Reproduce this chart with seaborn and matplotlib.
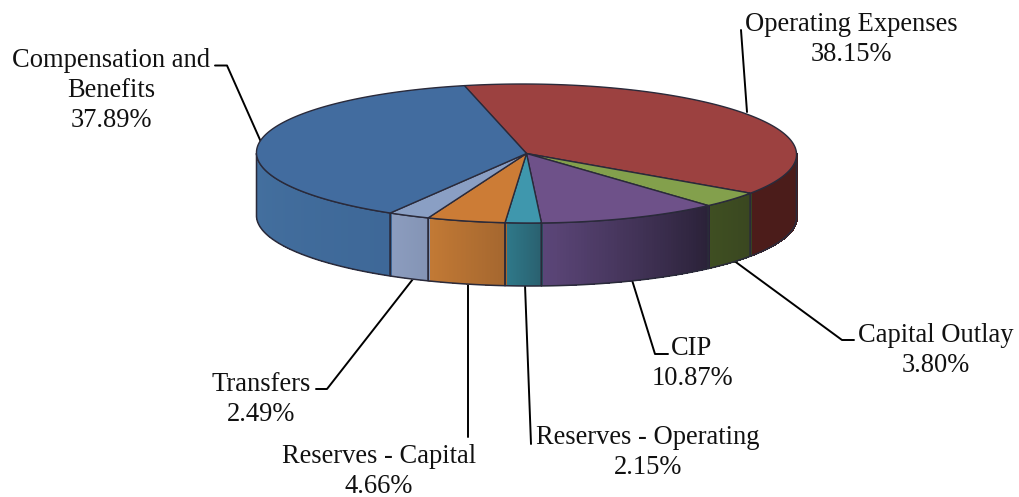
import numpy as np
import matplotlib
matplotlib.use("Agg")
import matplotlib.pyplot as plt
import seaborn as sns
from matplotlib.colors import to_rgb

categories = ["Operating Expenses", "Capital Outlay", "CIP", "Reserves - Operating",
              "Reserves - Capital", "Transfers", "Compensation and\nBenefits"]
shares = [38.15, 3.80, 10.87, 2.15, 4.66, 2.49, 37.89]
top_colors = ["#9c4140", "#83a04c", "#6e5189", "#3f97ad", "#cc7c36", "#8a9fc4", "#426c9f"]
side_left = ["#4c1c1a", "#3f4f22", "#5c4679", "#2f7a8b", "#c37a35", "#8c9dbf", "#44709f"]
side_right = ["#4a1c1a", "#3a4720", "#2b2239", "#2a6170", "#a5672f", "#8494b5", "#3e6898"]

sns.set_theme(style="white")
plt.rcParams["font.family"] = ["Liberation Serif", "DejaVu Serif"]

fig, ax = plt.subplots(figsize=(10.2, 4.97), dpi=100)
ax.set_position([0, 0, 1, 1])
ax.set_xlim(0, 1020)
ax.set_ylim(497, 0)
ax.axis("off")

cx, cy, rx, ry, depth = 526.5, 153.5, 270, 69.5, 63
shear = 3.9  # slight perspective of the disc
edge = "#2a2a3a"
start = 102.5


def ell(t):
    t = np.radians(t)
    s = np.sin(t)
    return cx + rx * np.cos(t) - shear * s, cy - ry * s


angles = start - np.cumsum([0] + shares) * 360 / 100

# sides: only the front half of the disc is visible
for i in range(len(shares)):
    lo, hi = angles[i + 1], angles[i]
    for off in (-360, 0, 360):
        r0, r1 = max(lo + off, -180), min(hi + off, 0)
        if r1 <= r0:
            continue
        ts = np.linspace(r0, r1, 60)  # left to right on screen
        c0, c1 = np.array(to_rgb(side_left[i])), np.array(to_rgb(side_right[i]))
        for k in range(len(ts) - 1):
            x0, y0 = ell(ts[k])
            x1, y1 = ell(ts[k + 1])
            f = k / (len(ts) - 2)
            col = c0 + (c1 - c0) * f
            ax.fill([x0, x1 + 1, x1 + 1, x0], [y0, y1, y1 + depth, y0 + depth],
                    color=col, lw=0, antialiased=False, zorder=2)
        xs, ys = ell(ts)
        ax.plot(np.r_[xs, xs[::-1], xs[0]], np.r_[ys, ys[::-1] + depth, ys[0]],
                color=edge, lw=1.1, zorder=3, solid_joinstyle="round")

# top face
for i in range(len(shares)):
    ts = np.linspace(angles[i], angles[i + 1], 200)
    xs, ys = ell(ts)
    ax.fill(np.r_[cx, xs], np.r_[cy, ys], facecolor=top_colors[i],
            edgecolor=edge, lw=1.0, zorder=4, joinstyle="round")

# labels: centre x, baseline of last line
labels = [
    (851, 61, 0), (936, 372, 1), (692, 385, 2), (648, 474, 3),
    (379, 493, 4), (261, 421, 5), (111, 127, 6),
]
for (x, y, i) in labels:
    ax.text(x, y, f"{categories[i]}\n{shares[i]:.2f}%", ha="center", va="baseline",
            fontsize=19.1, color="#111111", linespacing=1.27, zorder=6)

# leader lines
leaders = [
    [(747, 112), (741, 30)],
    [(733, 260), (842, 340), (854, 340)],
    [(632, 280), (655, 354), (668, 354)],
    [(525, 285), (531, 444)],
    [(468, 284), (468, 437)],
    [(413, 279), (327, 389), (316, 389)],
    [(261, 142), (227, 65.5), (215, 65.5)],
]
for pts in leaders:
    p = np.array(pts)
    ax.plot(p[:, 0], p[:, 1], color="black", lw=1.4, zorder=1)

fig.savefig("out.png", dpi=100, facecolor="white")
